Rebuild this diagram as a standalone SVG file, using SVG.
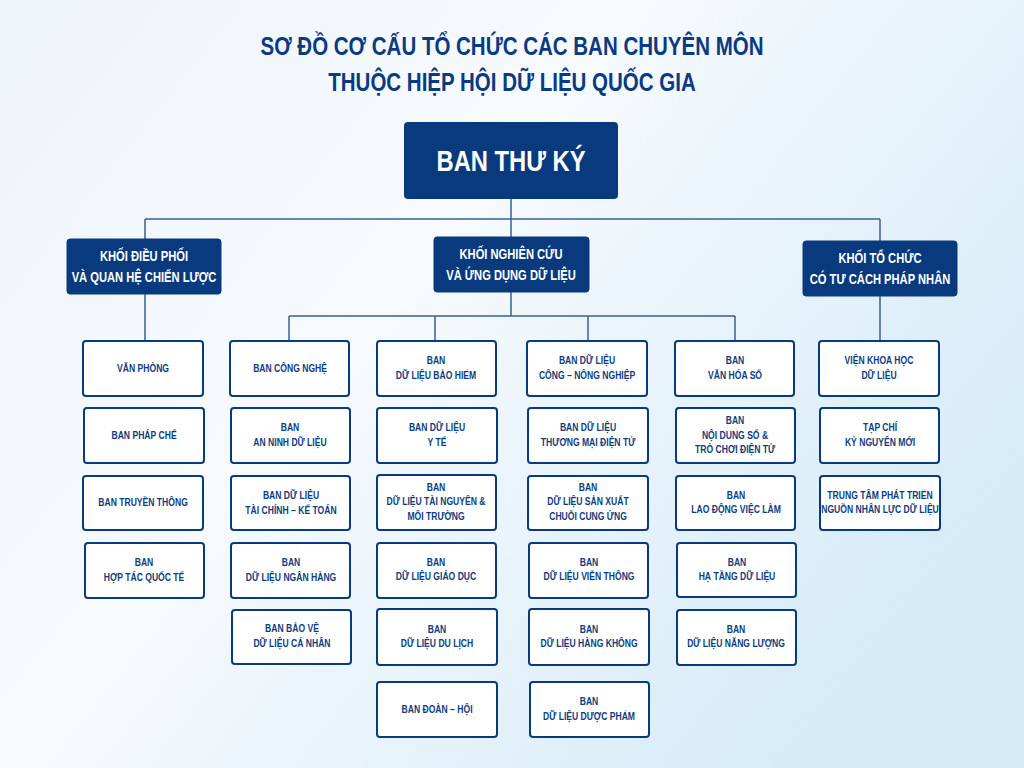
<svg xmlns="http://www.w3.org/2000/svg" width="1024" height="768" viewBox="0 0 1024 768">
<defs>
<linearGradient id="bg" x1="0" y1="0" x2="1" y2="0.6">
<stop offset="0" stop-color="#edf4fa"/>
<stop offset="0.45" stop-color="#f6fafd"/>
<stop offset="1" stop-color="#d6ebf8"/>
</linearGradient>
<style>
.t{font-family:"Liberation Sans",Arial,sans-serif;font-weight:bold;text-anchor:middle;transform:scaleX(0.82);transform-box:fill-box;transform-origin:center}
.title{fill:#0a3a82;font-size:25px}
.top{fill:#0a3a7e}
.topt{fill:#ffffff;font-size:29px}
.blk{fill:#0a3a7e;stroke:#0a3a7e}
.blkt{fill:#ffffff;font-size:14.5px;transform:scaleX(0.77)}
.box{fill:#ffffff;stroke:#0a3a7e;stroke-width:2}
.bt{fill:#0d3c80;font-size:11px;transform:scaleX(0.78)}
.ln{fill:none;stroke:#3b5f94;stroke-width:1.5}
</style>
</defs>
<rect width="1024" height="768" fill="url(#bg)"/>
<g id="title">
<text class="t title" x="512" y="55">SƠ ĐỒ CƠ CẤU TỔ CHỨC CÁC BAN CHUYÊN MÔN</text>
<text class="t title" x="512" y="91">THUỘC HIỆP HỘI DỮ LIỆU QUỐC GIA</text>
</g>
<g id="connectors">
<path class="ln" d="M511 199V219M145 219H880M145 219V239M511 219V237M880 219V241"/>
<path class="ln" d="M145 294V341M880 296V341M511 292V316M289 316H735M289 316V341M435 316V341M588 316V341M735 316V341"/>
</g>
<g id="ban-thu-ky"><rect class="top" x="404" y="122" width="214" height="77" rx="4"/><text class="t topt" x="511" y="171">BAN THƯ KÝ</text></g>
<g id="khoi-dieu-phoi"><rect class="blk" x="67" y="239" width="154" height="55" rx="3"/><text class="t blkt" x="144" y="261">KHỐI ĐIỀU PHỐI</text><text class="t blkt" x="144" y="282">VÀ QUAN HỆ CHIẾN LƯỢC</text></g>
<g id="khoi-nghien-cuu"><rect class="blk" x="434" y="237" width="155" height="55" rx="3"/><text class="t blkt" x="511" y="259">KHỐI NGHIÊN CỨU</text><text class="t blkt" x="511" y="280">VÀ ỨNG DỤNG DỮ LIỆU</text></g>
<g id="khoi-to-chuc"><rect class="blk" x="803" y="241" width="154" height="55" rx="3"/><text class="t blkt" x="880" y="263">KHỐI TỔ CHỨC</text><text class="t blkt" x="880" y="284">CÓ TƯ CÁCH PHÁP NHÂN</text></g>

<g id="van-phong"><rect class="box" x="83" y="341" width="120" height="55" rx="3"/><text class="t bt" x="143" y="372">VĂN PHÒNG</text></g>
<g id="ban-phap-che"><rect class="box" x="84" y="408" width="120" height="55" rx="3"/><text class="t bt" x="144" y="439">BAN PHÁP CHẾ</text></g>
<g id="ban-truyen-thong"><rect class="box" x="83" y="476" width="120" height="54" rx="3"/><text class="t bt" x="143" y="506">BAN TRUYỀN THÔNG</text></g>
<g id="ban-hop-tac"><rect class="box" x="85" y="543" width="119" height="55" rx="3"/><text class="t bt" x="144" y="566">BAN</text><text class="t bt" x="144" y="581">HỢP TÁC QUỐC TẾ</text></g>

<g id="ban-cong-nghe"><rect class="box" x="230" y="341" width="119" height="55" rx="3"/><text class="t bt" x="290" y="372">BAN CÔNG NGHỆ</text></g>
<g id="ban-an-ninh"><rect class="box" x="231" y="408" width="119" height="55" rx="3"/><text class="t bt" x="290" y="431">BAN</text><text class="t bt" x="290" y="446">AN NINH DỮ LIỆU</text></g>
<g id="ban-tai-chinh"><rect class="box" x="231" y="476" width="119" height="54" rx="3"/><text class="t bt" x="291" y="499">BAN DỮ LIỆU</text><text class="t bt" x="291" y="514">TÀI CHÍNH – KẾ TOÁN</text></g>
<g id="ban-ngan-hang"><rect class="box" x="231" y="543" width="119" height="55" rx="3"/><text class="t bt" x="291" y="566">BAN</text><text class="t bt" x="291" y="581">DỮ LIỆU NGÂN HÀNG</text></g>
<g id="ban-bao-ve"><rect class="box" x="232" y="610" width="119" height="54" rx="3"/><text class="t bt" x="292" y="632">BAN BẢO VỆ</text><text class="t bt" x="292" y="647">DỮ LIỆU CÁ NHÂN</text></g>

<g id="ban-bao-hiem"><rect class="box" x="377" y="341" width="119" height="55" rx="3"/><text class="t bt" x="436" y="364">BAN</text><text class="t bt" x="436" y="379">DỮ LIỆU BẢO HIỂM</text></g>
<g id="ban-y-te"><rect class="box" x="377" y="408" width="120" height="55" rx="3"/><text class="t bt" x="437" y="431">BAN DỮ LIỆU</text><text class="t bt" x="437" y="446">Y TẾ</text></g>
<g id="ban-tai-nguyen"><rect class="box" x="377" y="475" width="119" height="55" rx="3"/><text class="t bt" x="436" y="491">BAN</text><text class="t bt" x="436" y="505.5">DỮ LIỆU TÀI NGUYÊN &amp;</text><text class="t bt" x="436" y="520">MÔI TRƯỜNG</text></g>
<g id="ban-giao-duc"><rect class="box" x="377" y="543" width="119" height="55" rx="3"/><text class="t bt" x="436" y="566">BAN</text><text class="t bt" x="436" y="580">DỮ LIỆU GIÁO DỤC</text></g>
<g id="ban-du-lich"><rect class="box" x="377" y="609" width="120" height="56" rx="3"/><text class="t bt" x="437" y="633">BAN</text><text class="t bt" x="437" y="647">DỮ LIỆU DU LỊCH</text></g>
<g id="ban-doan-hoi"><rect class="box" x="377" y="682" width="120" height="55" rx="3"/><text class="t bt" x="437" y="713">BAN ĐOÀN – HỘI</text></g>

<g id="ban-cong-nong"><rect class="box" x="527" y="341" width="120" height="55" rx="3"/><text class="t bt" x="587" y="364">BAN DỮ LIỆU</text><text class="t bt" x="587" y="379">CÔNG – NÔNG NGHIỆP</text></g>
<g id="ban-thuong-mai"><rect class="box" x="528" y="408" width="120" height="55" rx="3"/><text class="t bt" x="588" y="431">BAN DỮ LIỆU</text><text class="t bt" x="588" y="446">THƯƠNG MẠI ĐIỆN TỬ</text></g>
<g id="ban-san-xuat"><rect class="box" x="528" y="476" width="120" height="54" rx="3"/><text class="t bt" x="588" y="491">BAN</text><text class="t bt" x="588" y="505.5">DỮ LIỆU SẢN XUẤT</text><text class="t bt" x="588" y="520">CHUỖI CUNG ỨNG</text></g>
<g id="ban-vien-thong"><rect class="box" x="529" y="543" width="119" height="55" rx="3"/><text class="t bt" x="589" y="566">BAN</text><text class="t bt" x="589" y="580">DỮ LIỆU VIỄN THÔNG</text></g>
<g id="ban-hang-khong"><rect class="box" x="529" y="609" width="120" height="56" rx="3"/><text class="t bt" x="589" y="633">BAN</text><text class="t bt" x="589" y="647">DỮ LIỆU HÀNG KHÔNG</text></g>
<g id="ban-duoc-pham"><rect class="box" x="530" y="682" width="119" height="55" rx="3"/><text class="t bt" x="589" y="705">BAN</text><text class="t bt" x="589" y="720">DỮ LIỆU DƯỢC PHẨM</text></g>

<g id="ban-van-hoa"><rect class="box" x="675" y="341" width="119" height="55" rx="3"/><text class="t bt" x="735" y="364">BAN</text><text class="t bt" x="735" y="379">VĂN HÓA SỐ</text></g>
<g id="ban-noi-dung"><rect class="box" x="676" y="408" width="119" height="55" rx="3"/><text class="t bt" x="735" y="424">BAN</text><text class="t bt" x="735" y="439">NỘI DUNG SỐ &amp;</text><text class="t bt" x="735" y="453">TRÒ CHƠI ĐIỆN TỬ</text></g>
<g id="ban-lao-dong"><rect class="box" x="676" y="476" width="119" height="54" rx="3"/><text class="t bt" x="736" y="499">BAN</text><text class="t bt" x="736" y="513">LAO ĐỘNG VIỆC LÀM</text></g>
<g id="ban-ha-tang"><rect class="box" x="677" y="543" width="119" height="54" rx="3"/><text class="t bt" x="737" y="566">BAN</text><text class="t bt" x="737" y="580">HẠ TẦNG DỮ LIỆU</text></g>
<g id="ban-nang-luong"><rect class="box" x="677" y="610" width="119" height="55" rx="3"/><text class="t bt" x="736" y="633">BAN</text><text class="t bt" x="736" y="647">DỮ LIỆU NĂNG LƯỢNG</text></g>

<g id="vien-khoa-hoc"><rect class="box" x="819" y="341" width="120" height="55" rx="3"/><text class="t bt" x="879" y="364">VIỆN KHOA HỌC</text><text class="t bt" x="879" y="379">DỮ LIỆU</text></g>
<g id="tap-chi"><rect class="box" x="820" y="408" width="119" height="55" rx="3"/><text class="t bt" x="880" y="431">TẠP CHÍ</text><text class="t bt" x="880" y="446">KỶ NGUYÊN MỚI</text></g>
<g id="trung-tam"><rect class="box" x="820" y="476" width="120" height="54" rx="3"/><text class="t bt" x="880" y="499">TRUNG TÂM PHÁT TRIỂN</text><text class="t bt" x="880" y="513">NGUỒN NHÂN LỰC DỮ LIỆU</text></g>
</svg>
